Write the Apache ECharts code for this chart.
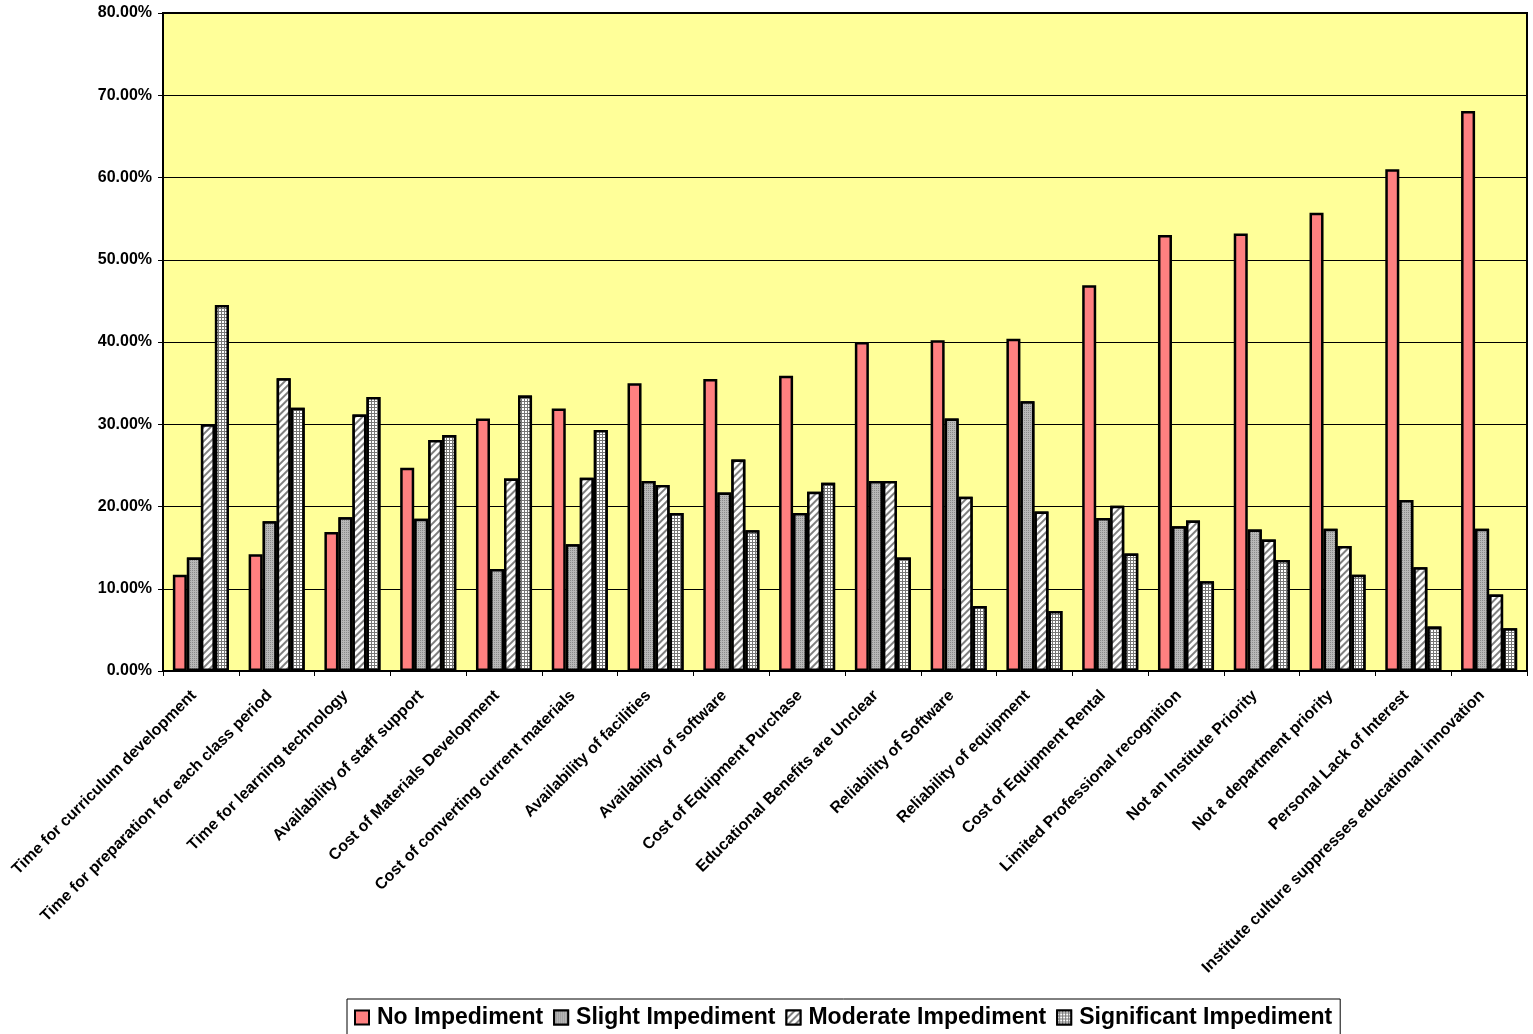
<!DOCTYPE html>
<html>
<head>
<meta charset="utf-8">
<script src="https://cdn.jsdelivr.net/npm/echarts@6/dist/echarts.min.js"></script>
<style>
html,body{margin:0;padding:0;background:#fff;}
#chart{width:1533px;height:1034px;}
</style>
</head>
<body>
<div id="chart"></div>
<script>
const categories = [
  "Time for curriculum development",
  "Time for preparation for each class period",
  "Time for learning technology",
  "Availability of staff support",
  "Cost of Materials Development",
  "Cost of converting current materials",
  "Availability of facilities",
  "Availability of software",
  "Cost of Equipment Purchase",
  "Educational Benefits are Unclear",
  "Reliability of Software",
  "Reliability of equipment",
  "Cost of Equipment Rental",
  "Limited Professional recognition",
  "Not an Institute Priority",
  "Not a department priority",
  "Personal Lack of Interest",
  "Institute culture suppresses educational innovation"
];
const seriesNames = ["No Impediment", "Slight Impediment", "Moderate Impediment", "Significant Impediment"];
const noImpediment =          [11.7, 14.2, 16.9, 24.7, 30.7, 31.9, 35.0, 35.5, 35.9, 40.0, 40.2, 40.4, 46.9, 53.0, 53.2, 55.7, 61.0, 68.1];
const slightImpediment =      [13.8, 18.2, 18.7, 18.5, 12.4, 15.4, 23.1, 21.7, 19.2, 23.1, 30.7, 32.8, 18.6, 17.6, 17.2, 17.3, 20.8, 17.3];
const moderateImpediment =    [30.0, 35.6, 31.2, 28.1, 23.4, 23.5, 22.6, 25.7, 21.8, 23.1, 21.2, 19.4, 20.1, 18.3, 16.0, 15.2, 12.6, 9.3];
const significantImpediment = [44.5, 32.0, 33.3, 28.7, 33.5, 29.3, 19.2, 17.1, 22.9, 13.8, 7.9, 7.3, 14.3, 10.9, 13.5, 11.7, 5.4, 5.2];
const yTicks = [0, 10, 20, 30, 40, 50, 60, 70, 80];

const FONT = "'Liberation Sans', Arial, sans-serif";
const styles = [
  { color: '#FF8080', borderColor: '#000', borderWidth: 2.5 },
  { color: '#a6a6a6', borderColor: '#000', borderWidth: 2.5,
    decal: { symbol: 'rect', symbolSize: 1, dashArrayX: [1, 1], dashArrayY: [1, 1], color: '#8a8a8a', backgroundColor: '#b8b8b8' } },
  { color: '#ffffff', borderColor: '#000', borderWidth: 2.5,
    decal: { symbol: 'rect', symbolSize: 1, dashArrayX: [[1, 0]], dashArrayY: [1.5, 2.5], rotation: -Math.PI / 4, color: '#808080', backgroundColor: '#ffffff' } },
  { color: '#777777', borderColor: '#000', borderWidth: 2.5,
    decal: { symbol: 'rect', symbolSize: 1, dashArrayX: [2, 1], dashArrayY: [2, 1], color: '#ffffff', backgroundColor: '#777777' } }
];
const dataSets = [noImpediment, slightImpediment, moderateImpediment, significantImpediment];

const chart = echarts.init(document.getElementById('chart'));
chart.setOption({
  animation: false,
  backgroundColor: '#ffffff',
  textStyle: { fontFamily: FONT },
  grid: {
    left: 163, right: 6, top: 13, bottom: 363,
    show: true, backgroundColor: '#FFFF99', borderColor: '#000', borderWidth: 2
  },
  legend: {
    left: 347, top: 999,
    itemWidth: 14, itemHeight: 14, itemGap: 10,
    padding: [7, 8, 12, 7],
    borderColor: '#000', borderWidth: 1,
    icon: 'rect',
    textStyle: { fontFamily: FONT, fontWeight: 'bold', fontSize: 23, color: '#000', padding: [0, 0, 0, 3] },
    data: seriesNames
  },
  xAxis: {
    type: 'category',
    data: categories,
    axisLine: { lineStyle: { color: '#000', width: 2 } },
    axisTick: { show: true, alignWithLabel: false, length: 5, lineStyle: { color: '#000', width: 1 } },
    axisLabel: {
      interval: 0, rotate: 45, margin: 15,
      padding: [0, 10, 0, 0],
      fontFamily: FONT, fontWeight: 'bold', fontSize: 16, color: '#000'
    }
  },
  yAxis: {
    type: 'value',
    min: yTicks[0], max: yTicks[yTicks.length - 1], interval: 10,
    axisLine: { show: true, lineStyle: { color: '#000', width: 2 } },
    axisTick: { show: true, length: 5, lineStyle: { color: '#000', width: 1 } },
    splitLine: { show: true, lineStyle: { color: '#000', width: 1 } },
    axisLabel: {
      margin: 11,
      fontFamily: FONT, fontWeight: 'bold', fontSize: 16, color: '#000',
      formatter: v => v.toFixed(2) + '%'
    }
  },
  series: seriesNames.map((name, i) => ({
    name: name,
    type: 'bar',
    data: dataSets[i],
    barGap: '0%',
    barCategoryGap: '26%',
    itemStyle: styles[i]
  }))
});
</script>
</body>
</html>
